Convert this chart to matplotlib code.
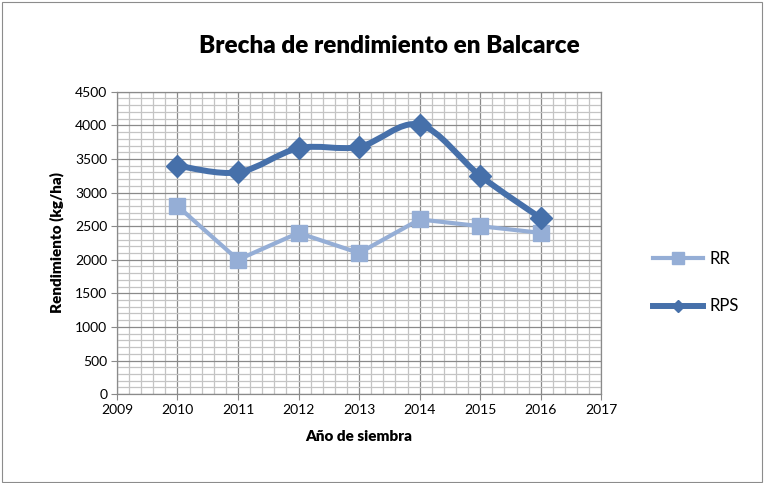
import matplotlib.pyplot as plt
import numpy as np
from matplotlib.path import Path
from matplotlib.patches import PathPatch, Rectangle
from matplotlib.lines import Line2D

plt.rcParams['font.family'] = ['Lato', 'DejaVu Sans']

# Datos
years = [2010, 2011, 2012, 2013, 2014, 2015, 2016]
rr = [2800, 2000, 2400, 2100, 2600, 2500, 2400]
rps = [3400, 3300, 3660, 3680, 4010, 3250, 2620]

c_rr = '#95AED6'
c_rps = '#4670AA'


def smooth_path(x, y, t=1/6):
    # curva suavizada estilo Excel (Catmull-Rom como Bezier cúbica)
    x = np.asarray(x, float)
    y = np.asarray(y, float)
    verts = [(x[0], y[0])]
    codes = [Path.MOVETO]
    n = len(x)
    for i in range(n - 1):
        p0 = (x[max(i - 1, 0)], y[max(i - 1, 0)])
        p1 = (x[i], y[i])
        p2 = (x[i + 1], y[i + 1])
        p3 = (x[min(i + 2, n - 1)], y[min(i + 2, n - 1)])
        c1 = (p1[0] + (p2[0] - p0[0]) * t, p1[1] + (p2[1] - p0[1]) * t)
        c2 = (p2[0] - (p3[0] - p1[0]) * t, p2[1] - (p3[1] - p1[1]) * t)
        verts += [c1, c2, p2]
        codes += [Path.CURVE4] * 3
    return Path(verts, codes)


fig = plt.figure(figsize=(7.64, 4.83), dpi=100)
fig.patches.append(Rectangle((0.002, 0.003), 0.995, 0.993, transform=fig.transFigure,
                             fill=False, edgecolor='#8C8C8C', linewidth=0.8))
ax = fig.add_axes([0.153, 0.184, 0.634, 0.626])

ax.set_xlim(2009, 2017)
ax.set_ylim(0, 4500)
ax.set_xticks(np.arange(2009, 2018, 1))
ax.set_yticks(np.arange(0, 4501, 500))
ax.set_xticks(np.arange(2009, 2017.01, 0.2), minor=True)
ax.set_yticks(np.arange(0, 4501, 100), minor=True)
ax.grid(which='minor', color='#C4C4C4', linewidth=0.9)
ax.grid(which='major', color='#8A8A8A', linewidth=0.9)
ax.set_axisbelow(True)
ax.tick_params(which='minor', length=0)
ax.tick_params(which='major', length=4, color='#8A8A8A', labelsize=10, pad=3)
for s in ax.spines.values():
    s.set_color('#8A8A8A')
    s.set_linewidth(0.9)

ax.plot(years, rr, color=c_rr, linewidth=3, marker='s', markersize=11.5,
        solid_capstyle='round', zorder=3)
ax.add_patch(PathPatch(smooth_path(years, rps), facecolor='none', edgecolor=c_rps,
                       linewidth=4.3, capstyle='round', zorder=4))
ax.plot(years, rps, linestyle='none', color=c_rps, marker='D', markersize=11, zorder=5)

ax.set_xlabel('Año de siembra', fontsize=11, fontweight='heavy', labelpad=10)
ax.set_ylabel('Rendimiento (kg/ha)', fontsize=11, fontweight='heavy', labelpad=8)
fig.text(0.510, 0.905, 'Brecha de rendimiento en Balcarce', ha='center', va='center',
         fontsize=17.5, fontweight='heavy')

handles = [Line2D([], [], color=c_rr, linewidth=3, marker='s', markersize=9),
           Line2D([], [], color=c_rps, linewidth=4.3, marker='D', markersize=6)]
fig.legend(handles, ['RR', 'RPS'], loc='center left', bbox_to_anchor=(0.835, 0.415),
           frameon=False, fontsize=12, handlelength=3, labelspacing=1.9, handletextpad=0.4)

fig.savefig('out.png', dpi=100)
